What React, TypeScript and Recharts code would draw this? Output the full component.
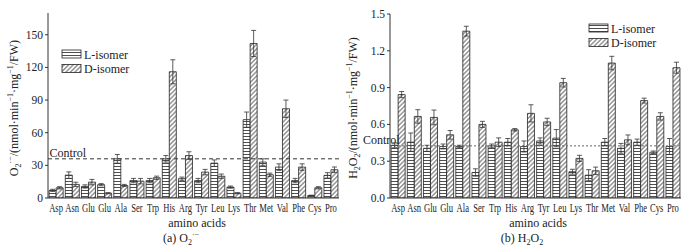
import React from 'react';
import { BarChart, Bar, XAxis, YAxis, ErrorBar, ReferenceLine } from 'recharts';

const aminoAcids = ['Asp', 'Asn', 'Glu', 'Glu', 'Ala', 'Ser', 'Trp', 'His', 'Arg', 'Tyr', 'Leu', 'Lys', 'Thr', 'Met', 'Val', 'Phe', 'Cys', 'Pro'];

// (a) O2·- production
const o2L = [7, 21, 10.6, 12.2, 36, 16, 16, 36, 17.7, 16, 32, 10, 72, 33, 28.4, 16, 2.3, 20.8];
const o2LErr = [1, 3, 1.5, 1, 4, 2, 2, 3, 1.5, 2, 3, 1, 7, 3, 3, 2, 0.3, 2.5];
const o2D = [9.4, 12.5, 14.6, 4.4, 11.5, 15.5, 18.6, 116, 39, 23.8, 20, 4.4, 142, 21.4, 82, 28.4, 9.4, 26];
const o2DErr = [1, 2, 2.5, 0.5, 1, 2.5, 1.5, 11, 3.5, 2.5, 2, 0.5, 12, 1.5, 8, 3, 1, 2.5];
const o2Ticks = [0, 30, 60, 90, 120, 150];
const o2Control = 36;

// (b) H2O2 content
const h2o2L = [0.43, 0.455, 0.405, 0.42, 0.42, 0.208, 0.425, 0.455, 0.42, 0.465, 0.488, 0.214, 0.186, 0.455, 0.405, 0.455, 0.373, 0.42];
const h2o2LErr = [0.02, 0.075, 0.025, 0.02, 0.01, 0.03, 0.015, 0.03, 0.045, 0.025, 0.07, 0.02, 0.045, 0.03, 0.04, 0.025, 0.01, 0.065];
const h2o2D = [0.843, 0.665, 0.657, 0.515, 1.36, 0.6, 0.455, 0.556, 0.69, 0.62, 0.94, 0.323, 0.222, 1.1, 0.474, 0.794, 0.665, 1.062];
const h2o2DErr = [0.025, 0.055, 0.06, 0.035, 0.04, 0.025, 0.035, 0.01, 0.07, 0.03, 0.035, 0.025, 0.03, 0.055, 0.04, 0.02, 0.03, 0.045];
const h2o2Ticks = [0, 0.3, 0.6, 0.9, 1.2, 1.5];
const h2o2Control = 0.425;

const FONT = '"Liberation Serif", "DejaVu Serif", serif';
const INK = '#222';

const o2Data = aminoAcids.map((_, i) => ({ key: i, l: o2L[i], le: o2LErr[i], d: o2D[i], de: o2DErr[i] }));
const h2o2Data = aminoAcids.map((_, i) => ({ key: i, l: h2o2L[i], le: h2o2LErr[i], d: h2o2D[i], de: h2o2DErr[i] }));

function Patterns({ id }: { id: string }) {
  return (
    <defs>
      <pattern id={`hl-${id}`} width={4} height={3} patternUnits="userSpaceOnUse">
        <rect width={4} height={3} fill="#fff" />
        <line x1={0} y1={1.5} x2={4} y2={1.5} stroke={INK} strokeWidth={0.8} />
      </pattern>
      <pattern id={`dg-${id}`} width={3.2} height={6} patternUnits="userSpaceOnUse" patternTransform="rotate(45)">
        <rect width={3.2} height={6} fill="#fff" />
        <line x1={1.6} y1={0} x2={1.6} y2={6} stroke={INK} strokeWidth={0.8} />
      </pattern>
    </defs>
  );
}

// category names are squeezed horizontally, as in the source figure
function AcidTick({ x, y, payload }: any) {
  return (
    <g transform={`translate(${x},${y})`}>
      <text transform="scale(0.66,1)" textAnchor="middle" y={14} fontSize={13} fill={INK} fontFamily={FONT}>
        {aminoAcids[payload.value]}
      </text>
    </g>
  );
}

const controlLabel = (dx: number, dy: number) => (props: any) => {
  const vb = props.viewBox || {};
  return (
    <text x={vb.x + dx} y={vb.y + dy} fontSize={12} fill={INK} fontFamily={FONT}>
      Control
    </text>
  );
};

type PanelProps = {
  id: string;
  data: any[];
  domain: [number, number];
  ticks: number[];
  fmt: (v: number) => string;
  control: number;
  controlStyle: { dash: string; color: string; dx: number };
  width: number;
  yWidth: number;
  right: number;
  top: number;
};

function Panel(p: PanelProps) {
  return (
    <BarChart
      width={p.width}
      height={251}
      data={p.data}
      margin={{ top: p.top, right: p.right, left: 0, bottom: 33 }}
      barCategoryGap="7%"
      barGap={0}
    >
      <Patterns id={p.id} />
      <XAxis dataKey="key" type="category" interval={0} height={20} tickLine={false} tickSize={0} tickMargin={0} stroke="#333" tick={<AcidTick />} />
      <XAxis xAxisId="top" dataKey="key" orientation="top" height={0} tick={false} tickLine={false} stroke="#333" />
      <YAxis
        domain={p.domain}
        ticks={p.ticks}
        interval={0}
        width={p.yWidth}
        tickSize={3}
        tickMargin={2}
        stroke="#333"
        allowDataOverflow
        tickFormatter={p.fmt}
        tick={{ fontSize: 11.5, fill: INK, fontFamily: FONT }}
      />
      <YAxis yAxisId="r" orientation="right" width={0} tick={false} tickLine={false} stroke="#333" />
      <ReferenceLine
        y={p.control}
        stroke={p.controlStyle.color}
        strokeDasharray={p.controlStyle.dash}
        strokeWidth={1}
        label={controlLabel(p.controlStyle.dx, -2)}
      />
      <Bar dataKey="l" fill={`url(#hl-${p.id})`} stroke={INK} strokeWidth={0.8} isAnimationActive={false}>
        <ErrorBar dataKey="le" width={2.5} stroke="#333" strokeWidth={0.8} direction="y" />
      </Bar>
      <Bar dataKey="d" fill={`url(#dg-${p.id})`} stroke={INK} strokeWidth={0.8} isAnimationActive={false}>
        <ErrorBar dataKey="de" width={2.5} stroke="#333" strokeWidth={0.8} direction="y" />
      </Bar>
    </BarChart>
  );
}

function LegendBox({ x, y, id, size }: { x: number; y: number; id: string; size: number }) {
  return (
    <g>
      <rect x={x} y={y} width={19} height={8} fill={`url(#hl-${id})`} stroke={INK} strokeWidth={0.8} />
      <text x={x + 22} y={y + 8.5} fontSize={size} fill={INK} fontFamily={FONT}>L-isomer</text>
      <rect x={x} y={y + 14.5} width={19} height={8} fill={`url(#dg-${id})`} stroke={INK} strokeWidth={0.8} />
      <text x={x + 22} y={y + 23} fontSize={size} fill={INK} fontFamily={FONT}>D-isomer</text>
    </g>
  );
}

export default function App() {
  const sub = { fontSize: 8 };
  return (
    <div style={{ position: 'relative', width: 699, height: 251, background: '#fff', fontFamily: FONT }}>
      <style>{'body{margin:0}'}</style>
      <div style={{ position: 'absolute', left: 0, top: 0 }}>
        <Panel
          id="a"
          data={o2Data}
          domain={[0, 170]}
          ticks={o2Ticks}
          fmt={(v) => String(v)}
          control={o2Control}
          controlStyle={{ dash: '4 3', color: '#333', dx: 1.5 }}
          width={350}
          yWidth={48}
          right={11}
          top={13}
        />
      </div>
      <div style={{ position: 'absolute', left: 350, top: 0 }}>
        <Panel
          id="b"
          data={h2o2Data}
          domain={[0, 1.5]}
          ticks={h2o2Ticks}
          fmt={(v) => v.toFixed(1)}
          control={h2o2Control}
          controlStyle={{ dash: '2 2', color: '#666', dx: -27 }}
          width={349}
          yWidth={40}
          right={18}
          top={14}
        />
      </div>
      <svg width={699} height={251} style={{ position: 'absolute', left: 0, top: 0, pointerEvents: 'none' }}>
        <LegendBox x={62} y={50} id="a" size={12} />
        <LegendBox x={589} y={24} id="b" size={12} />

        <text transform="translate(18,108) rotate(-90)" textAnchor="middle" fontSize={12} fill={INK} fontFamily={FONT}>
          O<tspan dy={3} {...sub}>2</tspan>
          <tspan dy={-8} {...sub}>·−</tspan>
          <tspan dy={5}>/(nmol·min</tspan>
          <tspan dy={-5} {...sub}>−1</tspan>
          <tspan dy={5}>·mg</tspan>
          <tspan dy={-5} {...sub}>−1</tspan>
          <tspan dy={5}>/FW)</tspan>
        </text>
        <text transform="translate(357,108) rotate(-90)" textAnchor="middle" fontSize={12} fill={INK} fontFamily={FONT}>
          H<tspan dy={3} {...sub}>2</tspan>
          <tspan dy={-3}>O</tspan>
          <tspan dy={3} {...sub}>2</tspan>
          <tspan dy={-3}>/(nmol·min</tspan>
          <tspan dy={-5} {...sub}>−1</tspan>
          <tspan dy={5}>·mg</tspan>
          <tspan dy={-5} {...sub}>−1</tspan>
          <tspan dy={5}>/FW)</tspan>
        </text>

        <text x={197} y={227} textAnchor="middle" fontSize={12} fill={INK} fontFamily={FONT}>amino acids</text>
        <text x={181} y={242} textAnchor="middle" fontSize={12} fill={INK} fontFamily={FONT}>
          (a) O<tspan dy={3} {...sub}>2</tspan>
          <tspan dy={-8} {...sub}>·−</tspan>
        </text>
        <text x={538} y={227} textAnchor="middle" fontSize={12} fill={INK} fontFamily={FONT}>amino acids</text>
        <text x={522} y={242} textAnchor="middle" fontSize={12} fill={INK} fontFamily={FONT}>
          (b) H<tspan dy={3} {...sub}>2</tspan>
          <tspan dy={-3}>O</tspan>
          <tspan dy={3} {...sub}>2</tspan>
        </text>
      </svg>
    </div>
  );
}
